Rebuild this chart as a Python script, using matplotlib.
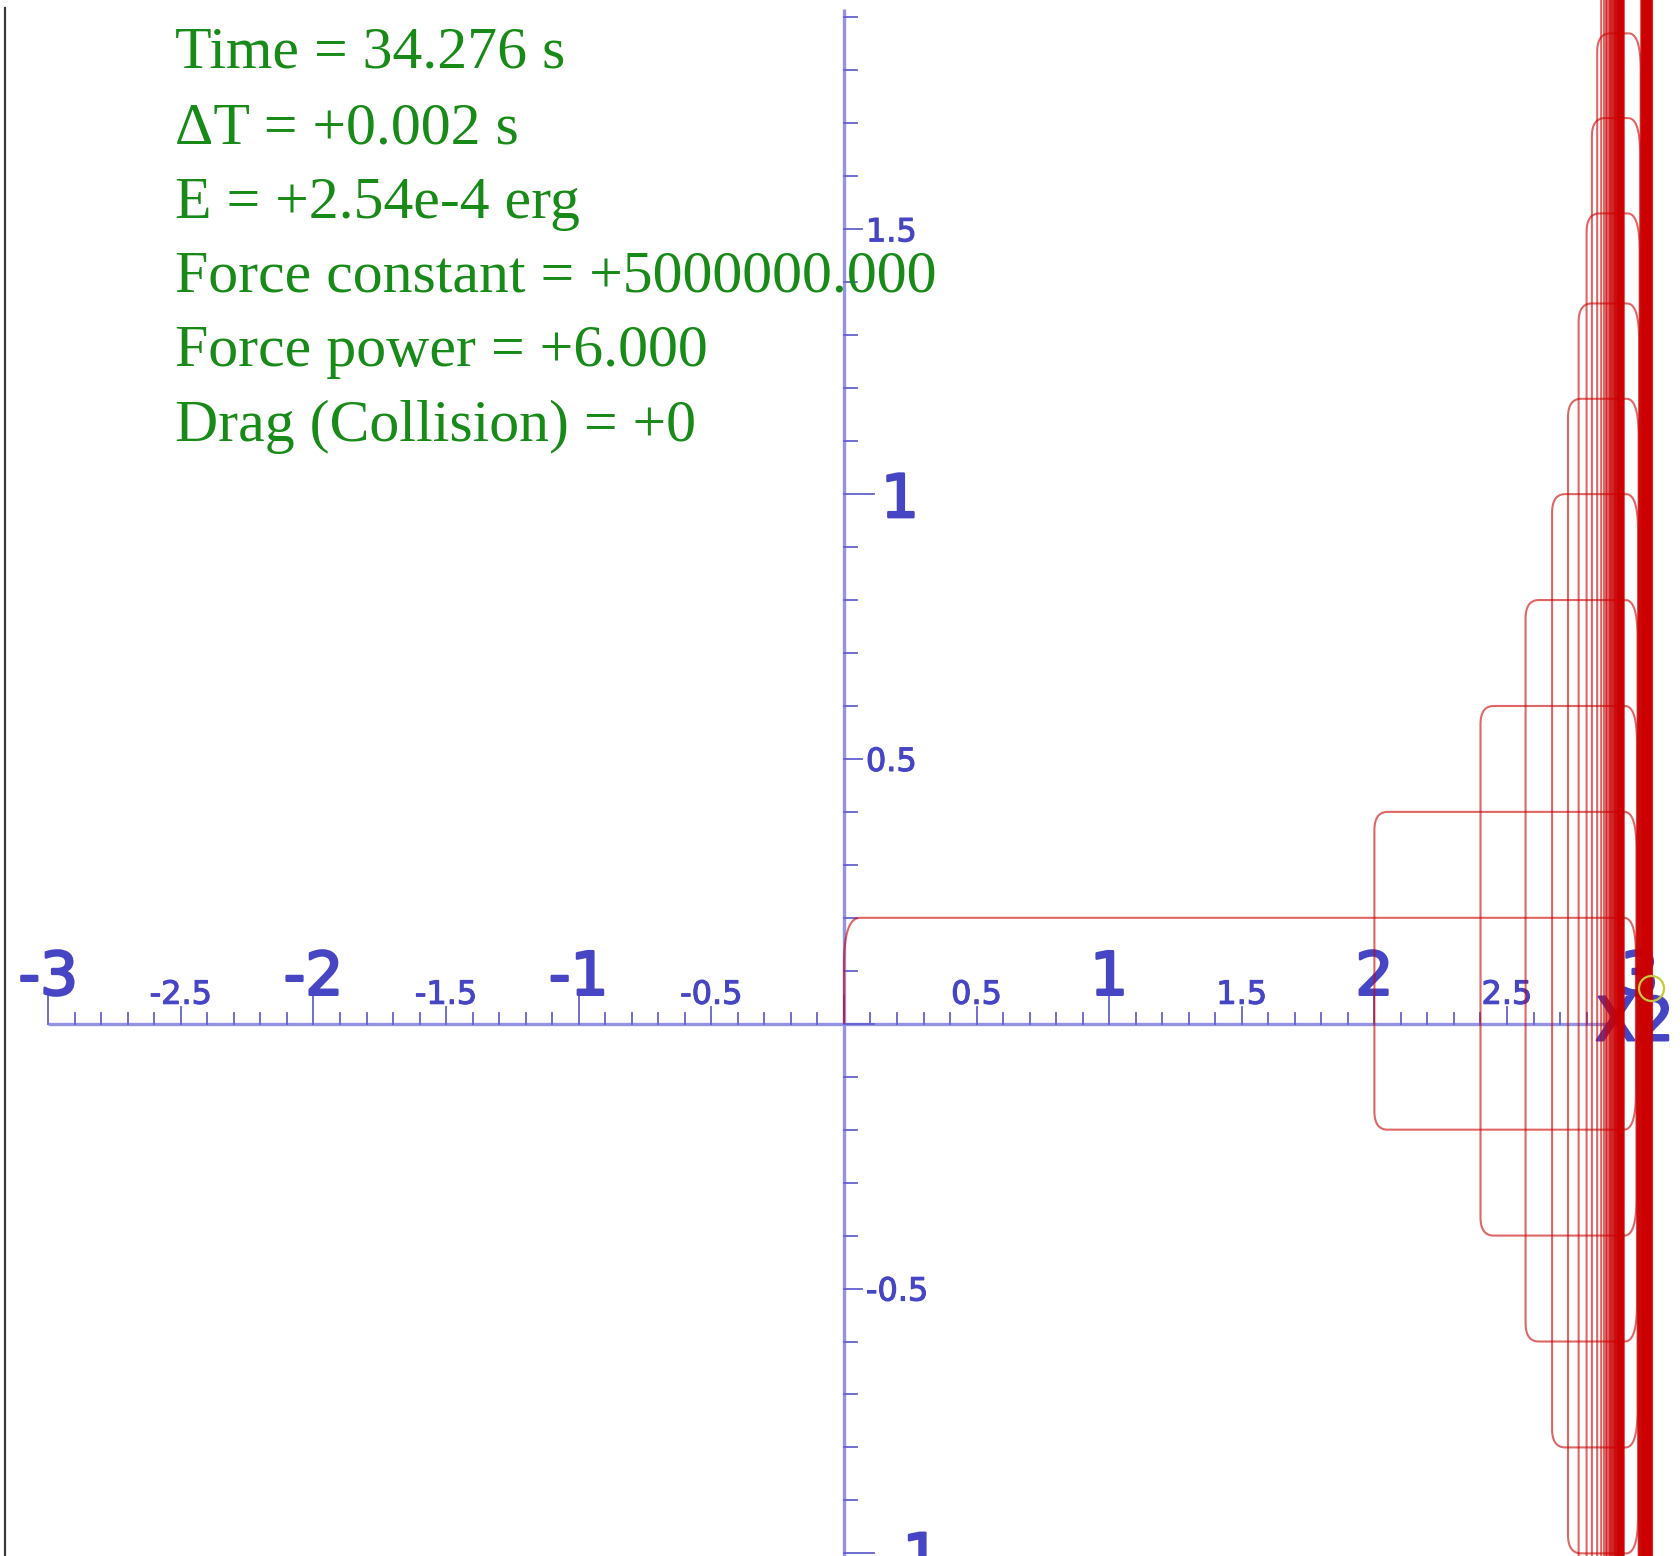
import numpy as np
import matplotlib
matplotlib.use("Agg")
import matplotlib.pyplot as plt
from matplotlib.lines import Line2D
import matplotlib.patheffects as pe

# ---------------- data ----------------
# levels of the horizontal runs of the trajectory (top = y>0, bottom = y<0)
top_levels = [0.20, 0.40, 0.60, 0.80, 1.00, 1.18, 1.36, 1.53, 1.71, 1.87,
              2.03, 2.18, 2.33, 2.47, 2.61, 2.75, 2.88, 3.01, 3.14, 3.26,
              3.38, 3.50, 3.62, 3.73, 3.84, 3.95, 4.06, 4.16, 4.26, 4.36,
              4.46, 4.56, 4.65, 4.74, 4.83, 4.92, 5.01, 5.09, 5.17, 5.25,
              5.33, 5.41, 5.49, 5.56, 5.63, 5.70]
bottom_levels = [-0.20, -0.40, -0.60, -0.80, -1.00, -1.18, -1.36, -1.53, -1.71, -1.87,
                 -2.03, -2.18, -2.33, -2.47, -2.61, -2.75, -2.88, -3.01, -3.14, -3.26,
                 -3.38, -3.50, -3.62, -3.73, -3.84, -3.95, -4.06, -4.16, -4.26, -4.36,
                 -4.46, -4.56, -4.65, -4.74, -4.83, -4.92, -5.01, -5.09, -5.17, -5.25,
                 -5.33, -5.41, -5.49, -5.56, -5.63]
# x of the returning (left) side of each loop
left_x = [2.00, 2.40, 2.57, 2.67, 2.73, 2.77, 2.80, 2.82, 2.84, 2.855,
          2.865, 2.872, 2.878, 2.884, 2.889, 2.893, 2.897, 2.900, 2.903, 2.906,
          2.909, 2.911, 2.913, 2.915, 2.917, 2.919, 2.921, 2.922, 2.924, 2.925,
          2.926, 2.927, 2.928, 2.929, 2.930, 2.931, 2.932, 2.933, 2.934, 2.935,
          2.936, 2.937, 2.938, 2.939, 2.940]
# x of the outer (right) wall side of each loop
right_x = [2.986, 2.988, 2.990, 2.992, 2.994, 2.996, 2.998, 3.000, 3.002, 3.004,
           3.006, 3.008, 3.009, 3.011, 3.012, 3.014, 3.015, 3.017, 3.018, 3.020,
           3.021, 3.022, 3.024, 3.025, 3.026, 3.027, 3.028, 3.029, 3.030, 3.031,
           3.032, 3.033, 3.034, 3.035, 3.036, 3.037, 3.038, 3.039, 3.040, 3.041,
           3.042, 3.043, 3.044, 3.045, 3.046]
start_point = (0.0, 0.0)
marker_point = (3.043, 0.068)

x_int_ticks = [-3, -2, -1, 1, 2, 3]
x_half_ticks = [-2.5, -1.5, -0.5, 0.5, 1.5, 2.5]
y_int_ticks = [-1, 1]
y_half_ticks = [-0.5, 0.5, 1.5]

info_lines = ["Time = 34.276 s",
              "\u0394T = +0.002 s",
              "E = +2.54e-4 erg",
              "Force constant = +5000000.000",
              "Force power = +6.000",
              "Drag (Collision) = +0"]

# ---------------- figure ----------------
W, H = 1681, 1556
fig = plt.figure(figsize=(W / 100, H / 100), dpi=100)
ax = fig.add_axes([0, 0, 1, 1])
XL = (-3.182, 3.156)
YL = (-1.005, 1.933)
ax.set_xlim(*XL)
ax.set_ylim(*YL)
ax.axis("off")

px_x = (XL[1] - XL[0]) / W   # data units per pixel in x
px_y = (YL[1] - YL[0]) / H

AXCOL = "#9494e4"
TICKCOL = "#6262d0"
LABCOL = "#4646c4"

# ---------------- trajectory ----------------
verts = [start_point, (start_point[0], top_levels[0])]
n = len(left_x)
for i in range(n):
    verts.append((right_x[i], top_levels[i]))
    verts.append((right_x[i], bottom_levels[i]))
    verts.append((left_x[i], bottom_levels[i]))
    verts.append((left_x[i], top_levels[i + 1]))

NS = 16  # samples per rounded corner

def rounded(vs):
    out = [vs[0]]
    for k in range(1, len(vs) - 1):
        A, P, C = np.array(vs[k - 1]), np.array(vs[k]), np.array(vs[k + 1])
        right_side = P[0] > 2.95
        if k == 1:
            rx, ry = 0.06, 0.14
        elif right_side:
            rx, ry = 0.045, 0.07
        else:
            rx, ry = 0.05, 0.035
        d1 = P - A
        d2 = C - P
        def r_of(d):
            if abs(d[0]) > abs(d[1]):
                return min(rx, 0.45 * abs(d[0]))
            return min(ry, 0.45 * abs(d[1]))
        u1 = np.sign(d1) * (np.abs(d1) > 1e-12)
        u2 = np.sign(d2) * (np.abs(d2) > 1e-12)
        S = P - u1 * r_of(d1)
        E = P + u2 * r_of(d2)
        s = np.linspace(0, 1, NS)[:, None]
        curve = (1 - s) ** 2 * S + 2 * s * (1 - s) * P + s ** 2 * E
        out.extend([tuple(p) for p in curve])
    out.append(vs[-1])
    return np.array(out)

path = rounded(verts)
# draw loop by loop so that overlapping passes build up colour like the original
first = 1 + NS            # start point + first corner
pieces = [path[:first + 1]]
idx = first
while idx < len(path) - 1:
    pieces.append(path[idx:idx + 4 * NS + 1])
    idx += 4 * NS
for pc in pieces:
    ax.plot(pc[:, 0], pc[:, 1], color="#cc0000", lw=1.5, alpha=0.6,
            solid_joinstyle="round", solid_capstyle="butt", zorder=5)

ax.plot([marker_point[0]], [marker_point[1]], marker="o", ms=18, mfc="none",
        mec="#c8c83a", mew=1.6, zorder=6)

# ---------------- axes drawn as in the original ----------------
ax.plot([-3, 2.9], [0, 0], color=AXCOL, lw=2.4, zorder=2, solid_capstyle="butt")
ax.plot([0, 0], [YL[0], 1.916], color=AXCOL, lw=2.4, zorder=2, solid_capstyle="butt")

xt_minor = np.round(np.arange(-3.0, 3.01, 0.1), 1)
for xv in xt_minor:
    if abs(xv - round(xv)) < 1e-9:
        ln = 28
    elif abs(xv * 2 - round(xv * 2)) < 1e-9:
        ln = 17
    else:
        ln = 11
    ax.plot([xv, xv], [0, ln * px_y], color=TICKCOL, lw=1.3, zorder=3)

yt_minor = np.round(np.arange(-1.0, 1.91, 0.1), 1)
for yv in yt_minor:
    if abs(yv - round(yv)) < 1e-9:
        ln = 30
    elif abs(yv * 2 - round(yv * 2)) < 1e-9:
        ln = 18
    else:
        ln = 13
    ax.plot([0, ln * px_x], [yv, yv], color=TICKCOL, lw=1.3, zorder=3)

big_fx = [pe.withStroke(linewidth=1.8, foreground=LABCOL)]
small_fx = [pe.withStroke(linewidth=0.8, foreground=LABCOL)]
for xv in x_int_ticks:
    ax.text(xv, 29 * px_y, f"{xv:g}", ha="center", va="baseline", fontsize=43,
            color=LABCOL, family="DejaVu Sans", zorder=3, path_effects=big_fx)
for xv in x_half_ticks:
    ax.text(xv, 20 * px_y, f"{xv:g}", ha="center", va="baseline", fontsize=23,
            color=LABCOL, family="DejaVu Sans", zorder=3, path_effects=small_fx)
for yv in y_int_ticks:
    ax.text(37 * px_x, yv, f"{yv:g}", ha="left", va="center_baseline", fontsize=43,
            color=LABCOL, family="DejaVu Sans", zorder=3, path_effects=big_fx)
for yv in y_half_ticks:
    ax.text(22 * px_x, yv, f"{yv:g}", ha="left", va="center_baseline", fontsize=23,
            color=LABCOL, family="DejaVu Sans", zorder=3, path_effects=small_fx)

ax.text(2.832, 0, "X2", ha="left", va="center", fontsize=43, color=LABCOL,
        family="DejaVu Sans", zorder=4, path_effects=big_fx)

# left frame line
fig.add_artist(Line2D([5 / W, 5 / W], [0, 1 - 8 / H], color="#3a3a3a", lw=1.6))

# ---------------- info text ----------------
baselines = [68, 143, 218, 291, 366, 441]
for s, b in zip(info_lines, baselines):
    fig.text(175 / W, 1 - b / H, s, ha="left", va="baseline", fontsize=43,
             color="#178a17", family="Liberation Serif", zorder=1)

fig.savefig("out.png", dpi=100, facecolor="white")
